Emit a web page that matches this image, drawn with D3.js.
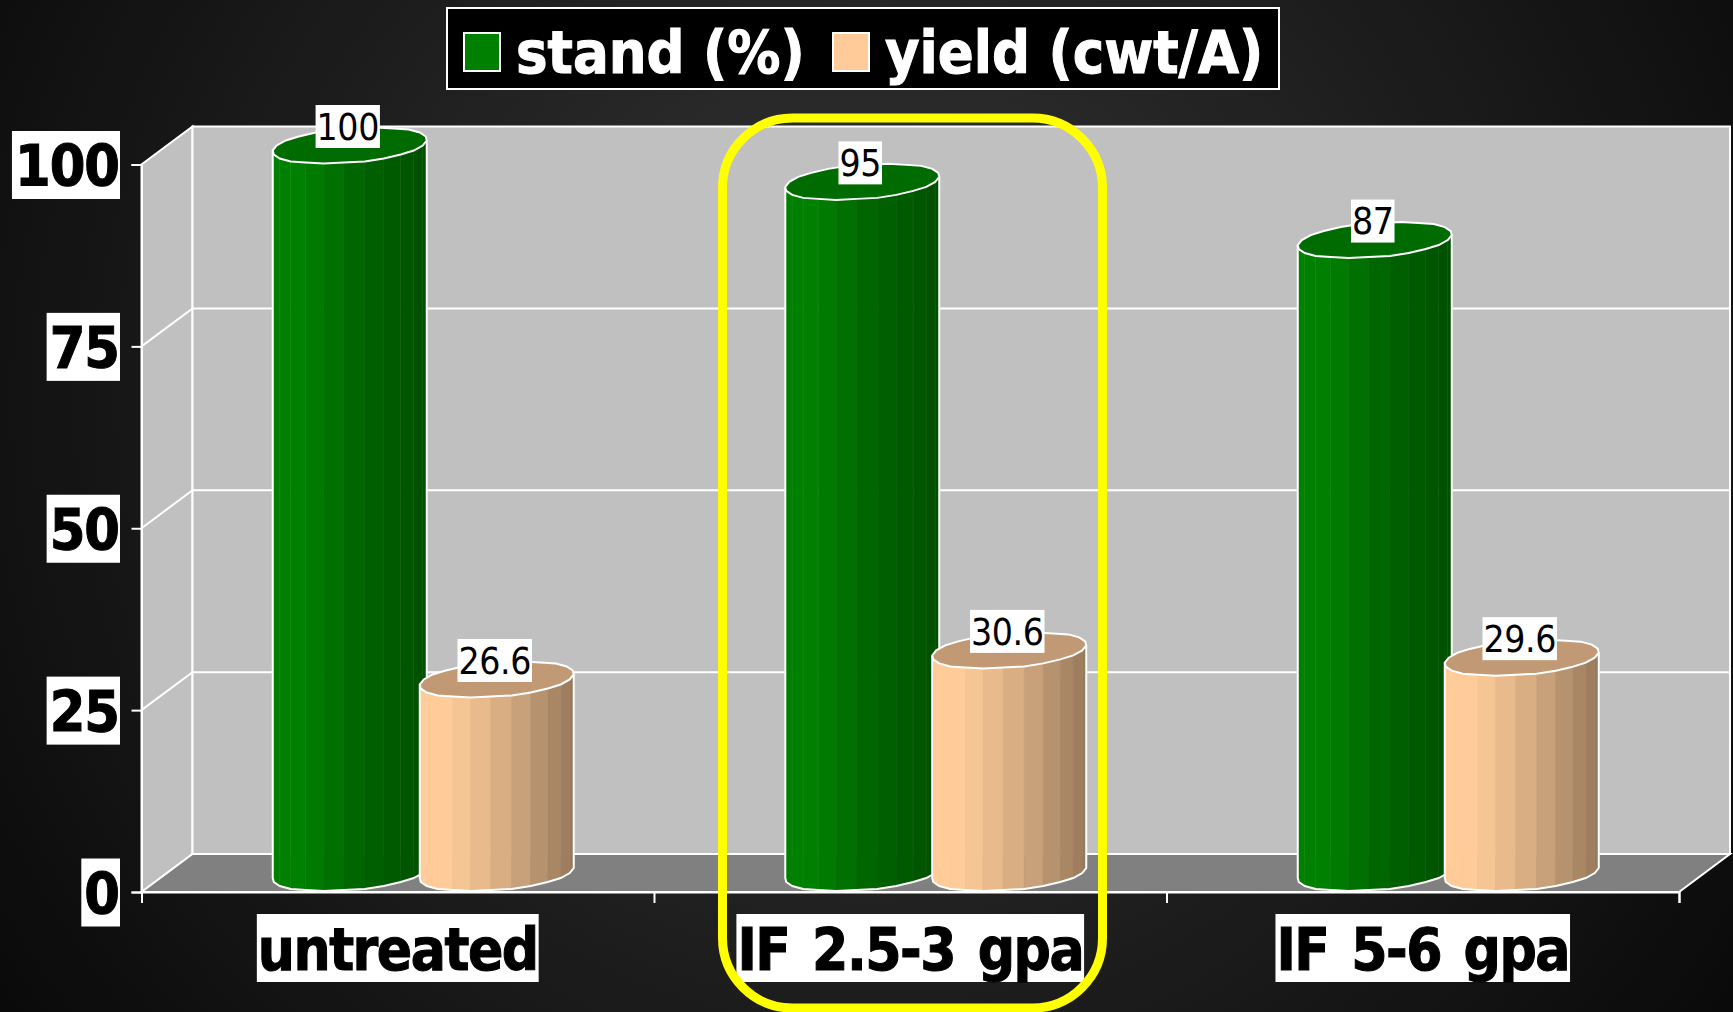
<!DOCTYPE html>
<html>
<head>
<meta charset="utf-8">
<script src="https://cdn.jsdelivr.net/npm/d3@7"></script>
<style>
  html, body { margin: 0; padding: 0; background: #000; overflow: hidden; }
  svg { display: block; }
  text { font-family: "DejaVu Sans"; font-stretch: condensed; }
</style>
</head>
<body>
<div id="chart"></div>
<script>
var categories = ['untreated', 'IF 2.5-3 gpa', 'IF 5-6 gpa']
var seriesNames = ['stand (%)', 'yield (cwt/A)']
var stand = [100, 95, 87]
var yieldCwt = [26.6, 30.6, 29.6]
var yTicks = [0, 25, 50, 75, 100]

var width = 1733
var height = 1012
var left = 141.5
var right = 1679
var floorY = 892
var topY = 164.5
var depthX = 51
var depthY = 38
var sides = 24

var palette = [
  { light: '#008000', mid: '#006400', dark: '#004f00', top: '#006b00' },
  { light: '#ffcc99', mid: '#d6ab81', dark: '#96785a', top: '#c19a75' }
]

var svg = d3.select('#chart').append('svg')
  .attr('width', width)
  .attr('height', height)

var x = d3.scaleBand().domain(categories).range([left, right])
var xEdge = d3.scaleLinear().domain([0, 3]).range([left, right])
var xInner = d3.scaleBand().domain([0, 1])
  .range([x.bandwidth() / 2 - 147, x.bandwidth() / 2 + 147])
var y = d3.scaleLinear().domain([0, 100]).range([floorY, topY])

drawBackground()
drawWalls()
drawAxes()
drawBars()
drawHighlight()
drawLegend()

function drawBackground() {
  var grad = svg.append('defs').append('radialGradient')
    .attr('id', 'bg')
    .attr('gradientUnits', 'userSpaceOnUse')
    .attr('cx', 866).attr('cy', 400).attr('r', 1050)
  grad.append('stop').attr('offset', 0).attr('stop-color', '#363636')
  grad.append('stop').attr('offset', 1).attr('stop-color', '#0a0a0a')
  svg.append('rect')
    .attr('width', width)
    .attr('height', height)
    .attr('fill', 'url(#bg)')
}

function drawWalls() {
  var g = svg.append('g')
  var backX = left + depthX
  var backRight = right + depthX
  function backY(v) { return y(v) - depthY }
  function poly(pts) { return d3.line()(pts) + 'Z' }

  // side wall and back wall
  g.append('path')
    .attr('d', poly([[left, y(0)], [left, y(100)], [backX, backY(100)], [backX, backY(0)]]))
    .attr('fill', '#c0c0c0')
    .attr('stroke', '#fff').attr('stroke-width', 2)
  g.append('rect')
    .attr('x', backX).attr('y', backY(100))
    .attr('width', backRight - backX).attr('height', backY(0) - backY(100))
    .attr('fill', '#c0c0c0')
    .attr('stroke', '#fff').attr('stroke-width', 2)
  // floor
  g.append('path')
    .attr('d', poly([[left, y(0)], [backX, backY(0)], [backRight, backY(0)], [right, y(0)]]))
    .attr('fill', '#808080')
    .attr('stroke', '#fff').attr('stroke-width', 2)

  // grid runs along the side wall then the back wall
  g.selectAll('.grid').data(yTicks.slice(1, 4)).enter()
    .append('path')
    .attr('class', 'grid')
    .attr('d', function(d) {
      return d3.line()([[left, y(d)], [backX, backY(d)], [backRight, backY(d)]])
    })
    .attr('fill', 'none')
    .attr('stroke', '#fff').attr('stroke-width', 2)
}

function drawAxes() {
  var yAxis = svg.append('g')
    .attr('transform', 'translate(' + left + ',0)')
    .call(d3.axisLeft(y).tickValues(yTicks).tickSize(10).tickPadding(12.5))
  styleAxis(yAxis)
  yAxis.selectAll('text')
    .attr('font-size', 57)
    .attr('letter-spacing', -1)
    .attr('dy', '0.37em')
    .attr('stroke', '#000').attr('stroke-width', 1)
  yAxis.selectAll('.tick text').each(function() {
    var box = this.getBBox()
    d3.select(this.parentNode).insert('rect', 'text')
      .attr('x', box.x - 3)
      .attr('y', -34)
      .attr('width', box.width + 4)
      .attr('height', 68)
      .attr('fill', '#fff')
  })

  var xTicks = svg.append('g')
    .attr('transform', 'translate(0,' + floorY + ')')
    .call(d3.axisBottom(xEdge).ticks(3).tickSize(11).tickFormat(''))
  styleAxis(xTicks)

  var xAxis = svg.append('g')
    .attr('transform', 'translate(0,' + floorY + ')')
    .call(d3.axisBottom(x).tickSize(0).tickPadding(37))
  xAxis.select('.domain').remove()
  xAxis.selectAll('text')
    .attr('font-size', 58)
    .attr('font-weight', 'bold')
    .attr('fill', '#000')
    .attr('letter-spacing', -1.5)
    .attr('word-spacing', 6)
    .attr('stroke', '#000').attr('stroke-width', 1)
  xAxis.selectAll('.tick text').each(function() {
    var box = this.getBBox()
    d3.select(this.parentNode).insert('rect', 'text')
      .attr('x', box.x - 1)
      .attr('y', 22)
      .attr('width', box.width + 2)
      .attr('height', 68)
      .attr('fill', '#fff')
  })
}

function styleAxis(sel) {
  sel.select('.domain').attr('stroke', '#fff').attr('stroke-width', 2)
  sel.selectAll('line').attr('stroke', '#fff').attr('stroke-width', 2)
  sel.selectAll('text')
    .attr('fill', '#000')
    .attr('font-weight', 'bold')
    .style('font-family', '"DejaVu Sans"')
}

// ring of points round the cylinder, relative to its centre
function ring() {
  var halfW = x.bandwidth() / 7
  return d3.range(sides).map(function(i) {
    var t = i / sides * 2 * Math.PI
    return [
      Math.round(halfW * Math.cos(t) + depthX / 2 * Math.sin(t)),
      Math.round(-(depthY - 2) / 2 * Math.sin(t))
    ]
  })
}

function drawBars() {
  var pts = ring()
  var xs = pts.map(function(p) { return p[0] })
  var minX = d3.min(xs)
  var maxX = d3.max(xs)
  var iLeft = xs.indexOf(minX)
  var iRight = xs.indexOf(maxX)

  // front half of the ring, walking left to right along the lower edge
  var front = []
  for (var i = iLeft; ; i = (i + 1) % sides) {
    front.push(pts[i])
    if (i === iRight) break
  }
  var frontCheck = d3.mean(front, function(p) { return p[1] })
  if (frontCheck < 0) {
    front = []
    for (var j = iLeft; ; j = (j - 1 + sides) % sides) {
      front.push(pts[j])
      if (j === iRight) break
    }
  }

  var rows = categories.map(function(c, i) {
    return { cat: c, values: [stand[i], yieldCwt[i]] }
  })

  var groups = svg.selectAll('.group').data(rows).enter()
    .append('g')
    .attr('class', 'group')
    .attr('transform', function(d) { return 'translate(' + x(d.cat) + ',0)' })

  groups.each(function(row) {
    var g = d3.select(this)
    row.values.forEach(function(v, s) {
      var colors = palette[s]
      var shade = d3.scaleLinear()
        .domain([minX, minX + 30, 10, maxX])
        .range([colors.light, colors.light, colors.mid, colors.dark])
      var cx = xInner(s) + xInner.bandwidth() / 2 + depthX / 2
      var yTop = y(v) - depthY / 2
      var yBase = y(0) - depthY / 2
      var bar = g.append('g')

      d3.pairs(front).forEach(function(pair) {
        var a = pair[0]
        var b = pair[1]
        if (a[0] === b[0]) return
        var c = shade((a[0] + b[0]) / 2)
        bar.append('path')
          .attr('d', d3.line()([
            [cx + a[0], yTop + a[1]], [cx + b[0], yTop + b[1]],
            [cx + b[0], yBase + b[1]], [cx + a[0], yBase + a[1]]
          ]) + 'Z')
          .attr('fill', c)
          .attr('stroke', c)
          .attr('stroke-width', 0.6)
        // faint seams between the narrow facets at both ends
        if (Math.abs(b[0]) > 40) {
          bar.append('line')
            .attr('x1', cx + b[0]).attr('x2', cx + b[0])
            .attr('y1', yTop + b[1]).attr('y2', yBase + b[1])
            .attr('stroke', '#fff')
            .attr('stroke-opacity', 0.12)
        }
      })

      var outline = front.map(function(p) { return [cx + p[0], yBase + p[1]] })
      outline.unshift([cx + minX, yTop + front[0][1]])
      outline.push([cx + maxX, yTop + front[front.length - 1][1]])
      bar.append('path')
        .attr('d', d3.line()(outline))
        .attr('fill', 'none')
        .attr('stroke', '#fff').attr('stroke-width', 2)

      bar.append('path')
        .attr('d', d3.line()(pts.map(function(p) { return [cx + p[0], yTop + p[1]] })) + 'Z')
        .attr('fill', colors.top)
        .attr('stroke', '#fff').attr('stroke-width', 2)

      var label = bar.append('text')
        .attr('x', cx - 2)
        .attr('y', yTop - 19)
        .attr('dy', '0.36em')
        .attr('text-anchor', 'middle')
        .attr('font-size', 37)
        .attr('letter-spacing', -0.4)
        .attr('fill', '#000')
        .text(v)
      var box = label.node().getBBox()
      bar.insert('rect', 'text')
        .attr('x', box.x - 1)
        .attr('y', yTop - 19 - 21.5)
        .attr('width', box.width + 2)
        .attr('height', 43)
        .attr('fill', '#fff')
    })
  })
}

function drawHighlight() {
  svg.append('rect')
    .attr('x', 722.5).attr('y', 118)
    .attr('width', 380).attr('height', 890)
    .attr('rx', 70).attr('ry', 70)
    .attr('fill', 'none')
    .attr('stroke', '#ffff00')
    .attr('stroke-width', 9)
}

function drawLegend() {
  var g = svg.append('g')
  g.append('rect')
    .attr('x', 447).attr('y', 8)
    .attr('width', 832).attr('height', 81)
    .attr('fill', '#000')
    .attr('stroke', '#fff').attr('stroke-width', 2)
  var swatchX = [464, 833]
  seriesNames.forEach(function(name, i) {
    g.append('rect')
      .attr('x', swatchX[i]).attr('y', 33)
      .attr('width', 36).attr('height', 38)
      .attr('fill', palette[i].light)
      .attr('stroke', '#fff').attr('stroke-width', 2)
    g.append('text')
      .attr('x', swatchX[i] + 52)
      .attr('y', 73)
      .attr('font-size', 59)
      .attr('fill', '#fff')
      .attr('font-weight', 'bold')
      .attr('stroke', '#fff').attr('stroke-width', 1)
      .text(name)
  })
}
</script>
</body>
</html>
